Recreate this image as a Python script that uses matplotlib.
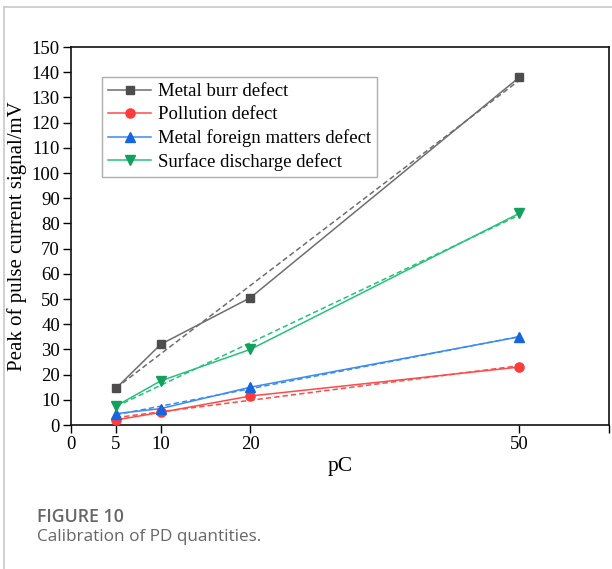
import numpy as np
import matplotlib
matplotlib.use("Agg")
import matplotlib.pyplot as plt
from matplotlib.lines import Line2D

pc = [5, 10, 20, 50]
metal_burr = [14.5, 32.0, 50.5, 138.0]
pollution = [2.0, 5.0, 11.5, 23.0]
metal_foreign = [4.5, 6.5, 15.0, 35.0]
surface_discharge = [7.5, 17.5, 30.0, 84.0]

series_names = ["Metal burr defect", "Pollution defect",
                "Metal foreign matters defect", "Surface discharge defect"]
x_ticks = [0, 5, 10, 20, 50, 60]
x_tick_labels = ["0", "5", "10", "20", "50", ""]
y_ticks = list(range(0, 151, 10))

styles = [
    dict(marker="s", ms=6.2, mcolor="#4d4d4d", lcolor="#6e6e6e"),
    dict(marker="o", ms=6.6, mcolor="#ff3b3b", lcolor="#ff4a4a"),
    dict(marker="^", ms=7.2, mcolor="#1565e0", lcolor="#3a8cf0"),
    dict(marker="v", ms=7.2, mcolor="#12a05c", lcolor="#25c27a"),
]

plt.rcParams["font.family"] = ["Liberation Serif", "DejaVu Serif"]

fig = plt.figure(figsize=(6.12, 5.69), dpi=100)
ax = fig.add_axes([71 / 612, 1 - 425 / 569, (609 - 71) / 612, (425 - 47) / 569])

data = [metal_burr, pollution, metal_foreign, surface_discharge]
handles = []
xs = np.array(pc, dtype=float)
for name, ys, st in zip(series_names, data, styles):
    ax.plot(pc, ys, color=st["lcolor"], lw=1.1, zorder=3, clip_on=False)
    k, b = np.polyfit(xs, np.array(ys), 1)
    xf = np.array([xs.min(), xs.max()])
    ax.plot(xf, k * xf + b, color=st["lcolor"], lw=1.1, ls=(0, (3.5, 2.0)), zorder=2,
            clip_on=False)
    ax.plot(pc, ys, ls="none", marker=st["marker"], ms=st["ms"], color=st["mcolor"],
            mec=st["mcolor"], zorder=4, clip_on=False)
    handles.append(Line2D([], [], color=st["lcolor"], lw=1.1, marker=st["marker"],
                          ms=st["ms"], mfc=st["mcolor"], mec=st["mcolor"]))

ax.set_xlim(0, 60)
ax.set_ylim(0, 150)
ax.set_xticks(x_ticks)
ax.set_xticklabels(x_tick_labels)
ax.set_yticks(y_ticks)
ax.tick_params(axis="both", direction="out", length=5.5, width=1.0, labelsize=13.5,
               top=False, right=False, pad=2.5)
for s in ax.spines.values():
    s.set_linewidth(1.2)
    s.set_color("#111111")

ax.set_xlabel("pC", fontsize=15.5)
ax.xaxis.set_label_coords(0.5, -0.085)
ax.set_ylabel("Peak of pulse current signal/mV", fontsize=15, va="center")
ax.yaxis.set_label_coords(-0.101, 0.5)

leg = ax.legend(handles, series_names, loc="upper left",
                bbox_to_anchor=((102 - 71) / 538, 1 - (77 - 47) / 378),
                frameon=True, fancybox=False, fontsize=13.5, handlelength=2.3,
                handletextpad=0.35, labelspacing=0.32, borderpad=0.32,
                borderaxespad=0)
leg.get_frame().set_edgecolor("#999999")
leg.get_frame().set_linewidth(1.0)

# page card border
fig.add_artist(Line2D([4 / 612, 4 / 612], [0, 1 - 7 / 569], transform=fig.transFigure,
                      color="#c8c8c8", lw=1.2))
fig.add_artist(Line2D([4 / 612, 1], [1 - 7 / 569, 1 - 7 / 569], transform=fig.transFigure,
                      color="#c8c8c8", lw=1.2))

fig.text(37 / 612, 1 - 517 / 569, "FIGURE 10", fontsize=12.8, fontweight="semibold",
         color="#666666", family=["Open Sans", "DejaVu Sans"], va="center", ha="left")
fig.text(37 / 612, 1 - 537 / 569, "Calibration of PD quantities.", fontsize=12.3,
         color="#666666", family=["Open Sans", "DejaVu Sans"], va="center", ha="left")

fig.savefig("out.png", dpi=100)
